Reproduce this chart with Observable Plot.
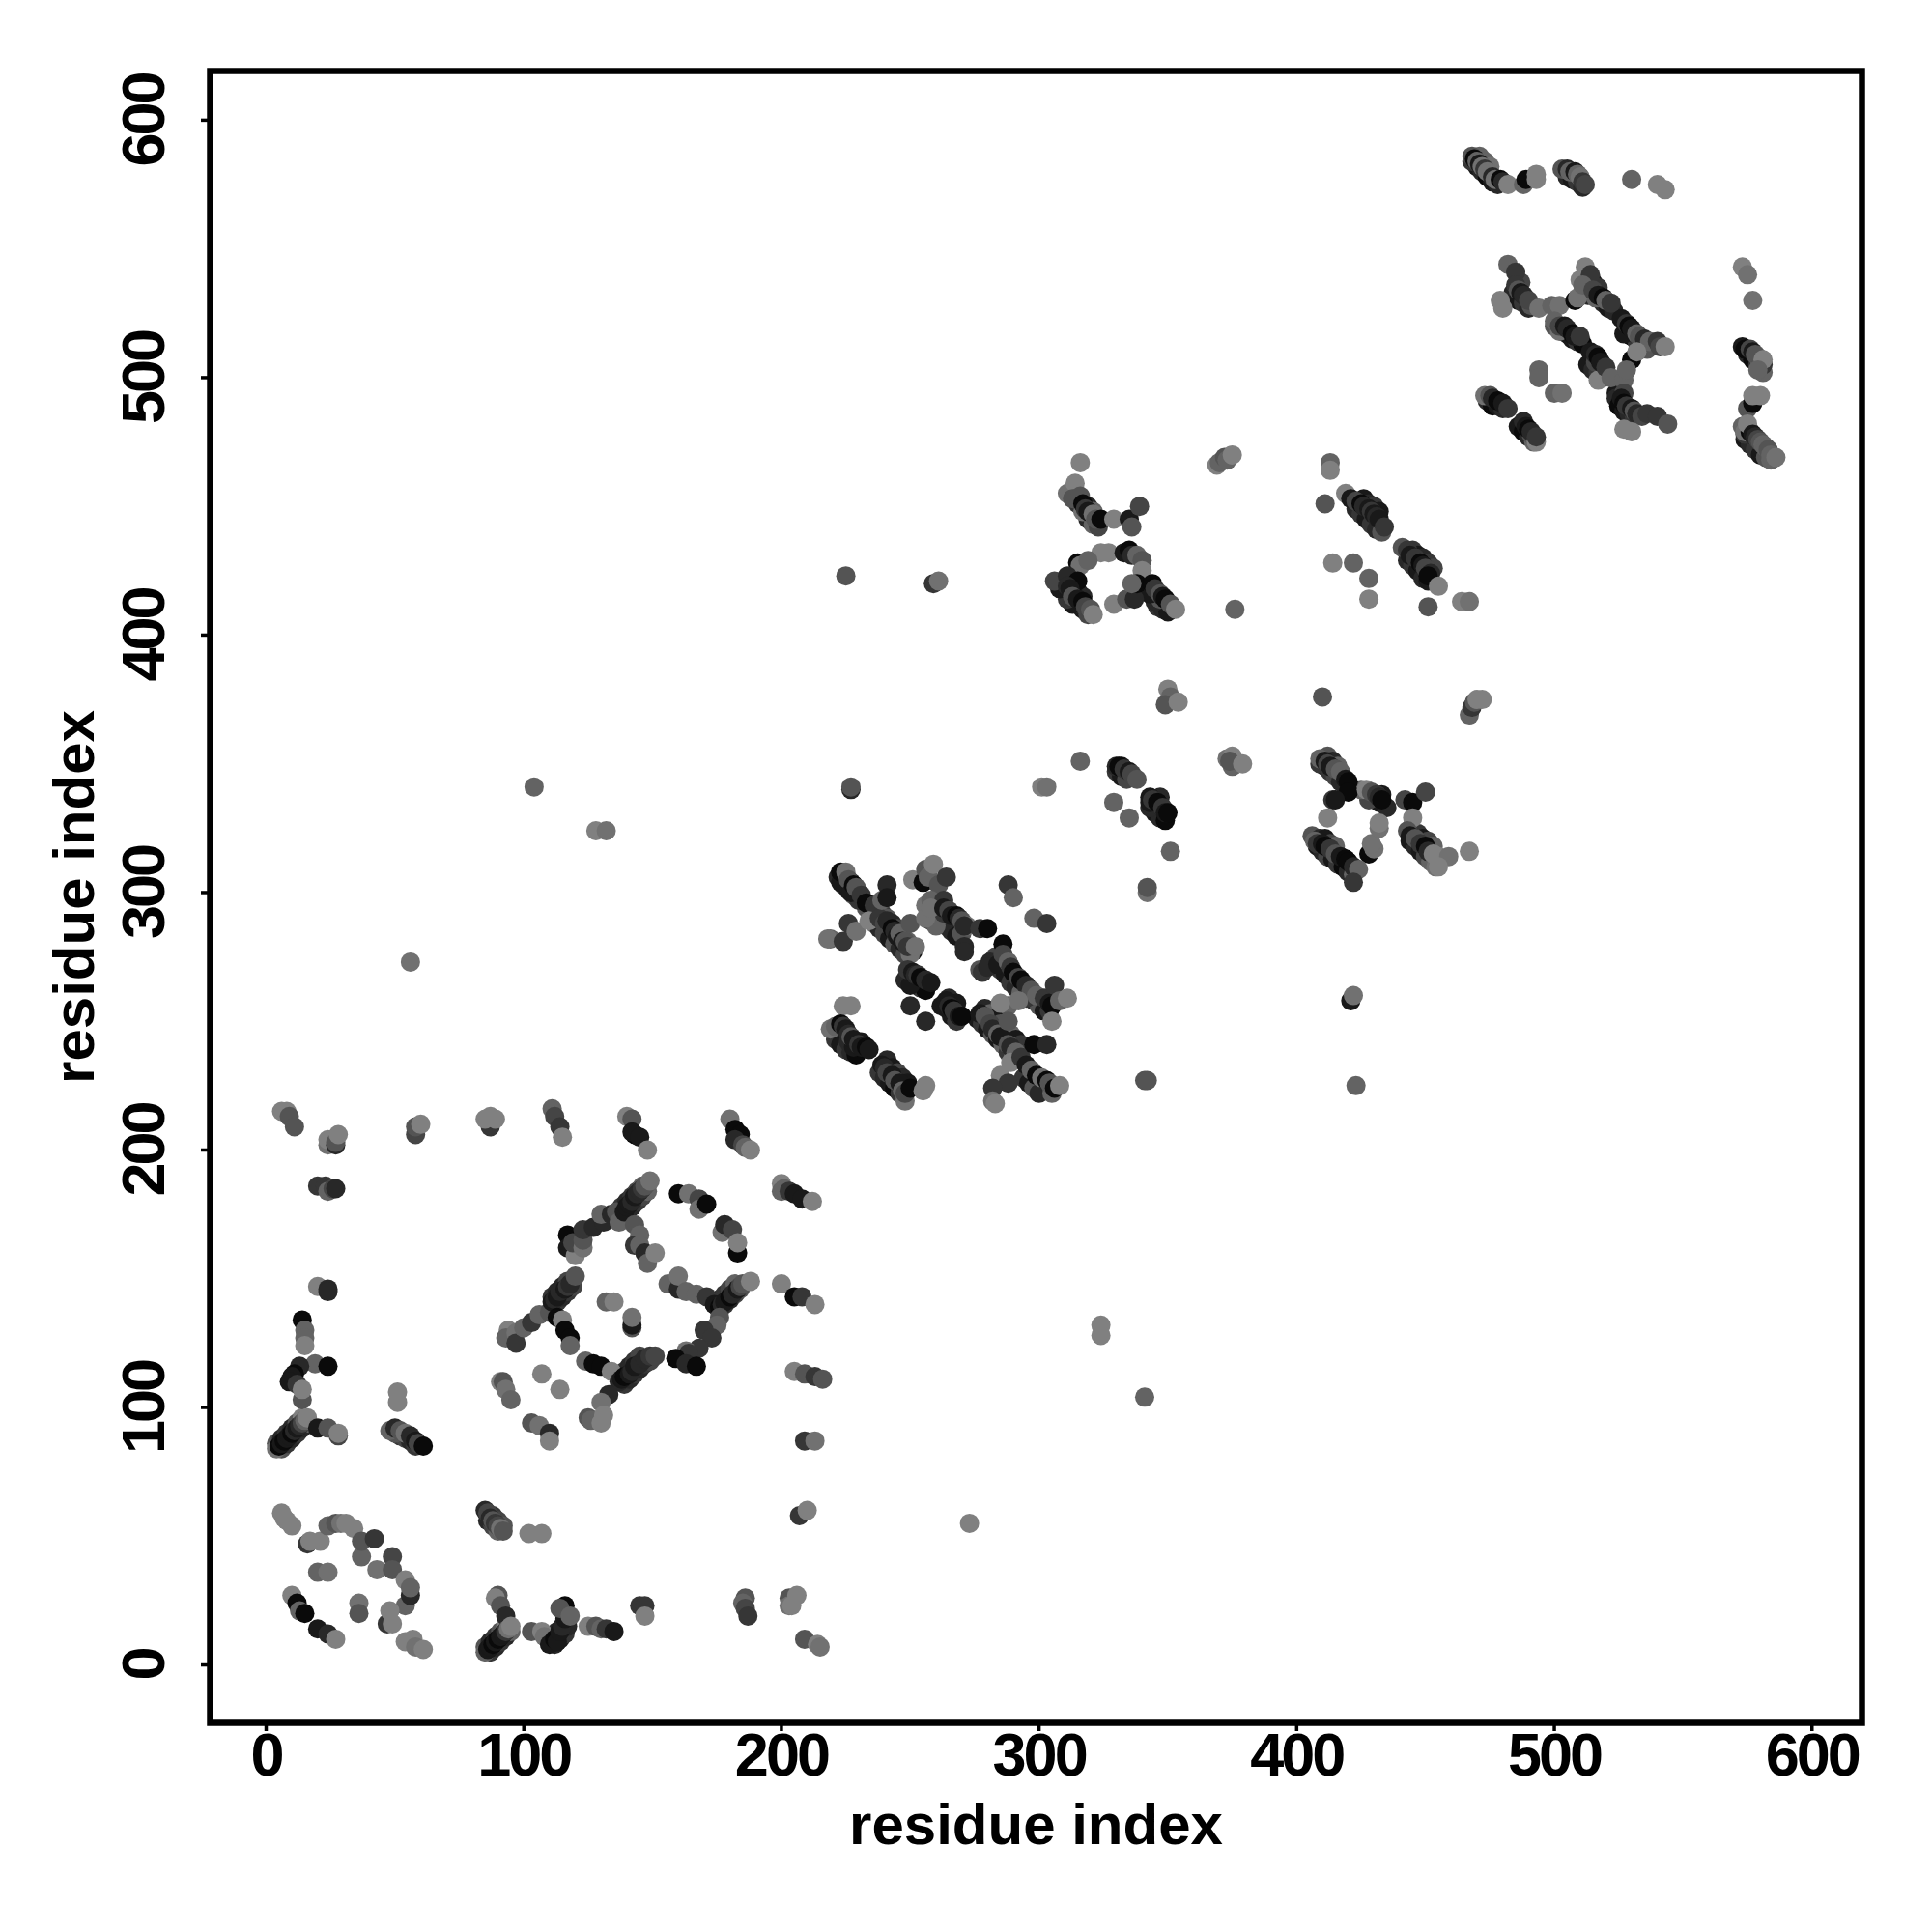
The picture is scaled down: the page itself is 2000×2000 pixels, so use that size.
<!DOCTYPE html>
<html><head><meta charset="utf-8">
<style>html,body{margin:0;padding:0;background:#fff}svg{display:block}
g[aria-label="x-axis tick label"],g[aria-label="y-axis tick label"]{letter-spacing:-3px}
g[aria-label="x-axis label"],g[aria-label="y-axis label"]{font-size:60px}
</style>
<script src="https://cdn.jsdelivr.net/npm/d3@7"></script>
<script src="https://cdn.jsdelivr.net/npm/@observablehq/plot@0.6"></script>
</head><body><div id="chart"></div>
<script>
// each entry: [residue x, residue y, shade 0 (black) .. 9 (light grey)]
const tickValues = [0,100,200,300,400,500,600];
const axisTitle = "residue index";
const fringeLowBlock = [[6,84,5],[8,86,3],[10,88,2],[12,90,3],[14,92,2],[16,94,6],[4,86,5],[6,88,2],[8,90,3],[10,92,2],[12,94,5],[14,96,8],[87,5,3],[89,7,2],[91,9,3],[93,11,2],[95,13,6],[85,7,5],[87,9,2],[89,11,3],[91,13,5],[93,15,8],[113,141,3],[115,143,2],[117,145,3],[119,147,4],[111,143,3],[113,145,2],[115,147,2],[117,149,4],[140,176,3],[142,178,2],[144,180,3],[146,182,4],[148,184,6],[138,178,3],[140,180,2],[142,182,3],[144,184,4],[146,186,6],[176,138,2],[178,140,3],[180,142,2],[182,144,4],[184,146,5],[174,140,3],[176,142,2],[178,144,3],[180,146,4],[182,148,6],[139,109,3],[141,111,2],[143,113,3],[145,115,2],[147,117,3],[149,118,4],[137,112,4],[139,114,3],[141,116,2],[143,118,3],[145,120,4],[112,8,2],[114,10,1],[116,12,3],[117,15,2],[110,11,3],[113,13,2],[52,89,3],[54,88,4],[56,87,2],[58,85,3],[50,90,5],[48,91,6],[88,58,3],[86,56,2],[90,56,4],[88,54,4],[92,54,5],[90,52,6]];
const fringeBlocks = [[225,306,3],[227,304,2],[229,301,4],[231,298,2],[233,294,5],[222,306,2],[224,303,3],[226,301,1],[228,299,5],[230,297,3],[236,292,5],[239,292,3],[241,290,5],[243,288,2],[245,286,4],[247,283,3],[249,281,6],[251,277,1],[236,288,7],[238,286,2],[240,284,4],[242,282,1],[244,280,5],[246,278,2],[248,276,4],[250,276,7],[260,291,2],[262,289,1],[264,287,4],[266,285,2],[268,283,1],[270,284,5],[258,289,4],[260,287,6],[263,292,3],[256,295,7],[288,268,3],[290,266,1],[292,264,4],[294,262,2],[296,260,6],[298,258,2],[300,256,5],[302,254,1],[304,254,3],[283,275,4],[281,273,2],[285,270,3],[287,268,1],[289,265,3],[291,263,2],[293,261,6],[295,259,3],[279,255,2],[281,253,6],[283,251,1],[285,249,5],[287,247,2],[289,245,6],[291,243,1],[293,241,3],[276,251,1],[278,249,3],[280,247,1],[282,245,5],[284,243,1],[286,241,6],[288,238,3],[290,236,6],[296,230,2],[298,228,4],[300,226,0],[302,224,1],[304,223,2],[294,228,3],[296,226,1],[298,224,5],[300,222,2],[305,222,6],[221,243,3],[223,241,1],[225,239,3],[227,238,2],[229,237,0],[231,242,1],[226,242,2],[228,240,1],[238,230,3],[240,228,2],[242,226,1],[244,224,0],[246,222,3],[241,235,2],[243,232,1],[245,230,4],[247,228,2],[249,226,1],[252,265,1],[254,263,3],[256,262,0],[248,266,2],[250,264,1],[249,270,3],[264,255,2],[266,252,1],[268,250,3],[262,256,1],[265,259,2],[268,257,1]];
const fringeUpper = [[313,456,6],[315,451,3],[317,449,1],[319,445,2],[321,443,6],[323,442,4],[317,448,7],[319,450,2],[321,448,6],[317,410,1],[319,408,4],[315,412,2],[313,412,1],[311,414,3],[315,417,1],[317,415,2],[308,420,2],[308,418,1],[346,411,3],[348,410,2],[350,409,1],[345,413,2],[347,414,5],[343,416,1],[423,449,2],[425,447,3],[427,445,1],[429,443,3],[431,441,2],[433,440,5],[426,453,1],[428,451,2],[430,450,3],[432,448,1],[443,429,2],[445,427,3],[447,425,1],[449,422,2],[451,421,1],[445,433,3],[447,431,1],[449,430,2],[451,428,3],[453,426,4],[411,349,1],[413,347,3],[415,345,4],[417,343,2],[409,350,3],[412,353,5],[414,351,2],[416,349,6],[408,318,1],[410,316,2],[412,314,4],[414,313,1],[416,311,3],[418,310,0],[420,308,2],[422,307,6],[406,322,5],[409,321,2],[411,321,1],[413,319,4],[415,318,6],[444,320,1],[446,318,2],[448,316,1],[450,314,4],[452,312,6],[454,310,7],[447,323,3],[449,321,1],[451,320,4],[453,318,6],[332,349,1],[334,347,2],[336,345,3],[330,347,3],[332,345,1],[334,344,4],[345,331,1],[347,329,2],[349,328,0],[343,333,2],[343,335,1],[347,337,2],[432,335,1],[430,337,3],[435,333,2],[428,336,4],[425,340,6],[433,338,1]];
const fringeTop = [[470,582,1],[472,580,2],[474,578,0],[476,576,1],[478,575,2],[468,584,3],[471,586,6],[473,584,6],[475,582,7],[505,578,2],[507,577,1],[509,576,3],[511,574,2],[484,533,2],[486,530,1],[488,529,3],[490,527,2],[487,537,4],[491,528,5],[515,537,1],[517,535,3],[519,529,2],[521,527,1],[513,532,2],[516,531,6],[523,526,2],[503,518,2],[505,517,1],[507,515,1],[509,514,3],[511,513,0],[500,520,5],[502,518,7],[513,505,1],[515,503,2],[517,502,3],[519,500,5],[514,510,1],[516,506,4],[524,494,1],[524,492,2],[525,489,0],[527,487,1],[529,486,2],[531,485,3],[526,523,1],[528,518,2],[530,516,0],[532,514,3],[534,512,6],[536,511,5],[527,517,1],[474,491,2],[476,489,0],[478,489,1],[480,488,2],[486,481,1],[488,479,0],[490,477,2],[492,475,6],[491,478,5],[573,512,1],[575,509,2],[577,507,0],[579,505,3],[581,502,6],[579,508,7],[574,476,1],[576,474,2],[578,472,3],[580,470,1],[582,469,5],[584,468,6],[574,478,3],[573,481,6]];
const topRowLeft = [[6,215,8],[8,215,8],[9,213,5],[11,209,5],[24,202,7],[24,204,8],[27,202,2],[27,203,5],[28,206,8],[58,206,4],[58,209,5],[60,210,8],[87,209,3],[85,212,8],[87,213,8],[89,212,8],[111,216,6],[112,213,4],[114,209,3],[115,205,8],[140,213,8],[142,212,5],[143,206,0],[142,207,1],[145,205,1],[148,200,8],[180,212,7],[182,208,0],[184,206,0],[182,204,2],[185,202,4],[186,201,6],[188,200,8],[200,187,8],[200,184,6],[201,185,6],[203,184,3],[205,183,1],[208,181,1],[212,180,8],[20,186,3],[23,186,3],[24,184,6],[26,185,4],[27,185,2]];
const bigHelixTop = [[117,167,0],[117,162,1],[120,159,8],[119,164,4],[123,162,7],[123,165,5],[123,169,3],[127,170,2],[131,172,2],[130,175,6],[134,175,2],[136,176,5],[137,172,6],[139,176,1],[140,178,1],[141,179,1],[142,180,2],[143,182,1],[144,183,2],[145,184,2],[146,185,3],[147,186,5],[149,188,7],[143,171,5],[145,167,6],[143,163,3],[145,163,6],[147,160,2],[148,156,6],[151,160,8]];
const ringRight = [[160,183,0],[164,183,7],[168,181,4],[168,177,7],[171,179,0],[177,168,7],[178,171,2],[181,169,4],[183,160,0],[183,164,8]];
const chainRight = [[156,148,6],[160,146,2],[160,151,7],[163,145,6],[167,144,6],[171,143,3],[174,140,1],[176,139,0],[177,140,2],[178,141,1],[180,143,0],[181,144,2],[183,146,1],[184,147,4],[185,148,5],[188,149,8],[176,135,5],[175,132,6],[170,130,3],[173,127,3],[168,123,3],[163,122,7],[164,121,3],[159,119,0],[163,117,2],[167,116,0]];
const chainLeft = [[94,130,8],[93,127,6],[97,129,7],[97,125,3],[100,131,6],[103,133,3],[106,136,6],[110,137,5],[111,141,1],[112,142,2],[113,143,1],[114,145,2],[116,146,1],[117,147,3],[118,148,2],[120,151,5],[113,135,0],[115,134,8],[116,130,0],[118,127,0],[118,124,6],[132,141,6],[135,141,8],[142,131,5],[142,132,1],[142,135,7]];
const chainLow = [[124,118,6],[127,117,0],[130,116,0],[134,114,8],[137,110,2],[138,111,1],[139,112,0],[141,113,1],[142,114,2],[143,116,1],[145,117,2],[147,119,2],[149,120,3],[151,120,4],[133,105,2],[130,102,7],[125,96,5],[126,95,6],[130,94,8],[131,97,8],[91,110,8],[92,110,5],[93,107,7],[95,103,6],[107,113,8],[114,107,8],[103,94,5],[106,93,7],[110,90,2],[110,87,8]];
const sideRight = [[200,148,8],[205,143,0],[208,143,3],[213,140,8],[205,114,8],[209,113,5],[213,112,3],[216,111,5],[209,87,3],[213,87,7],[207,58,3],[210,60,8],[186,26,5],[185,24,6],[186,22,4],[187,19,3],[203,26,5],[203,23,7],[204,23,8],[206,27,8],[209,10,5],[214,8,8],[215,7,7]];
const leftColumn = [[20,147,8],[24,146,2],[24,145,2],[14,134,0],[15,130,6],[15,127,6],[15,124,8],[19,117,6],[24,116,0],[13,116,2],[11,113,0],[10,112,1],[9,110,1],[12,109,3],[14,103,5],[14,107,8],[51,106,8],[51,102,8]];
const diagBottomLeft = [[4,84,7],[5,85,0],[6,86,1],[7,87,0],[8,88,1],[9,89,1],[10,90,0],[11,91,2],[12,92,1],[13,93,2],[14,94,4],[15,95,6],[16,96,8],[20,92,1],[24,92,5],[28,89,4],[28,90,8],[50,92,2],[52,91,5],[54,90,7],[56,89,2],[58,87,1],[59,86,4],[61,85,0]];
const arcBottomLeft = [[6,59,8],[7,57,8],[8,56,8],[10,54,8],[16,47,3],[17,48,8],[21,48,8],[24,54,6],[27,55,5],[29,55,7],[31,55,8],[34,53,8],[37,42,6],[37,48,5],[42,49,3],[49,42,4],[43,37,7],[49,37,5],[20,36,6],[24,36,7],[54,33,8],[54,23,6],[56,27,2],[56,30,6],[36,24,7],[36,20,5],[47,16,3],[48,21,8],[49,16,8],[10,27,8],[12,24,0],[13,21,6],[15,20,0],[20,14,1],[24,12,2],[27,10,8],[54,9,8],[57,10,8],[58,7,7],[61,6,8]];
const bottomMiddle = [[85,60,2],[86,59,4],[87,57,2],[88,56,5],[89,55,3],[90,54,4],[91,53,7],[92,52,5],[102,51,8],[107,51,8],[90,27,5],[89,26,8],[91,23,5],[93,19,2],[85,5,6],[86,6,1],[87,7,1],[88,8,0],[89,9,1],[90,10,0],[91,11,1],[92,12,1],[93,13,3],[94,14,7],[95,15,8],[103,13,5],[107,13,8],[108,11,7],[110,8,1],[112,10,0],[113,9,1],[114,13,1],[115,15,2],[116,18,1],[116,23,0],[114,22,5],[118,19,6],[125,15,8],[128,15,5],[130,14,6],[132,14,3],[135,13,1],[145,23,3],[147,23,3],[147,19,8]];
const sparseLow = [[273,55,8],[324,132,8],[324,128,8],[341,104,6],[56,273,7],[104,341,6],[128,324,8],[132,324,7],[227,340,2],[227,341,5],[301,341,8],[303,341,7],[225,423,5],[259,420,3],[261,421,7],[421,258,1],[422,260,7],[423,225,6]];
const blockOne = [[219,282,6],[218,282,7],[224,281,3],[226,288,3],[229,285,7],[223,304,1],[223,308,0],[225,308,7],[226,305,5],[227,300,1],[228,303,0],[229,302,5],[231,299,3],[233,296,0],[236,295,3],[234,289,8],[238,290,3],[239,297,6],[241,303,2],[241,298,1],[240,288,4],[241,289,2],[243,286,0],[244,285,2],[245,283,1],[246,284,6],[247,281,1],[248,281,5],[249,279,3],[250,288,5],[252,279,7]];
const blockTwo = [[251,305,8],[255,304,0],[256,309,5],[257,306,6],[259,311,8],[261,303,5],[264,306,3],[256,290,7],[258,297,6],[263,297,3],[258,294,7],[263,294,1],[265,293,4],[266,291,1],[268,291,0],[269,290,2],[270,289,5],[272,287,7],[271,287,2],[277,286,3],[280,286,0],[271,279,2],[271,277,2],[288,303,3],[290,298,6],[298,290,6],[303,288,3]];
const blockThree = [[277,270,5],[278,269,3],[280,271,2],[284,272,1],[286,280,0],[286,276,4],[288,273,6],[289,271,3],[290,269,0],[292,267,4],[293,266,0],[295,264,2],[297,262,5],[299,260,6],[302,259,3],[304,257,1],[305,256,0],[306,264,3],[308,258,6],[311,259,8],[305,250,8],[251,269,1],[252,268,2],[253,268,3],[254,267,0],[256,266,2],[258,265,1],[250,256,2],[256,250,2],[264,258,1],[265,256,2],[266,255,0],[267,254,3],[269,252,1],[270,252,0]];
const blockFour = [[288,256,6],[292,258,7],[285,257,8],[277,253,1],[279,252,5],[281,249,4],[282,247,2],[284,245,6],[285,244,1],[288,250,5],[288,241,5],[289,240,2],[291,238,6],[289,234,8],[293,236,3],[298,241,0],[303,241,2],[295,233,1],[297,231,6],[299,229,0],[301,228,7],[303,227,0],[304,226,5],[306,224,0],[308,225,8],[285,229,8],[288,226,3],[282,224,3],[282,219,7],[283,218,8],[341,227,5],[342,227,5],[342,300,7],[342,302,5]];
const blockFive = [[224,256,8],[227,256,8],[219,247,7],[221,248,6],[223,249,0],[224,248,3],[225,247,1],[226,245,2],[227,244,5],[228,243,1],[230,241,3],[231,240,1],[233,240,0],[234,239,1],[239,233,1],[240,232,2],[241,230,4],[243,229,1],[244,227,5],[246,226,1],[247,223,6],[248,219,7],[248,222,4],[250,224,0],[256,225,8],[255,223,8]];
const upperMidLeft = [[316,467,8],[311,455,7],[314,459,8],[313,453,5],[316,454,5],[317,451,0],[318,449,3],[319,448,1],[321,447,7],[322,445,5],[324,445,0],[329,445,8],[335,445,1],[336,442,5],[339,450,4],[324,432,8],[327,432,8],[333,432,1],[335,433,0],[336,431,2],[338,431,6],[340,429,5],[340,425,8],[315,428,0],[316,427,7],[319,429,6],[306,421,4],[311,423,2],[315,421,0],[311,419,2],[312,418,1],[313,415,5],[315,414,1],[317,413,0],[318,411,4],[320,410,5],[321,408,8],[329,412,8],[334,414,5],[337,414,2],[338,420,0],[336,420,6],[344,420,0],[345,418,3],[347,416,5],[348,415,1],[349,414,0],[351,412,5],[353,410,8],[376,410,6],[369,466,8],[370,467,6],[372,469,5],[373,468,6],[375,470,8]];
const upperMidRight = [[413,467,6],[413,464,8],[411,451,5],[419,455,8],[421,453,1],[423,452,4],[425,451,0],[426,450,2],[428,449,1],[429,448,3],[430,447,1],[431,446,2],[432,445,1],[434,442,3],[441,434,5],[443,433,3],[444,431,1],[446,430,3],[448,428,0],[449,427,1],[450,426,4],[452,424,2],[451,423,0],[455,419,8],[414,428,8],[422,428,6],[428,422,6],[428,414,8],[451,411,5],[464,413,8],[467,413,7],[410,376,5],[467,369,6],[468,372,3],[469,374,5],[470,375,8],[472,375,8]];
const middleLower = [[350,379,8],[351,376,6],[349,373,5],[354,374,8],[316,351,6],[330,349,2],[331,349,0],[333,348,3],[335,347,1],[336,346,4],[338,344,5],[329,335,6],[335,329,6],[343,337,1],[344,336,3],[346,335,0],[348,333,3],[349,331,1],[350,331,0],[351,316,6],[373,352,7],[375,353,8],[375,349,6],[374,351,5],[379,350,8]];
const middleRight = [[409,352,6],[411,351,1],[412,350,4],[413,349,1],[415,348,5],[417,347,6],[419,344,1],[420,343,0],[420,339,0],[414,336,3],[415,336,1],[427,340,8],[429,339,5],[431,338,3],[432,337,2],[433,336,0],[442,336,4],[445,335,0],[450,339,4],[445,329,8],[412,329,8],[428,315,0],[430,317,7],[429,319,7],[432,325,7],[432,327,8],[407,320,6],[408,319,3],[410,319,1],[411,318,0],[413,317,3],[415,315,5],[417,314,1],[419,313,0],[420,312,0],[422,310,2],[424,309,6],[422,304,3],[443,324,5],[444,322,1],[446,321,5],[448,319,3],[450,318,0],[451,316,2],[453,315,8],[455,314,8],[459,314,7],[455,310,8],[467,316,8]];
const topRight = [[468,586,5],[469,585,0],[470,584,6],[471,583,1],[472,582,7],[473,581,3],[474,580,7],[476,578,2],[477,577,7],[479,577,0],[480,576,2],[482,575,8],[488,575,6],[489,577,0],[493,579,8],[493,577,8],[503,581,5],[505,581,2],[506,580,6],[508,580,1],[509,579,6],[510,578,7],[511,576,3],[512,575,4],[530,577,6],[540,575,8],[543,573,8]];
const upperBlockLeft = [[482,544,6],[485,541,3],[485,536,3],[486,534,5],[487,533,1],[488,532,2],[490,530,4],[494,527,7],[479,530,8],[480,527,8],[499,528,6],[502,528,7],[508,530,0],[509,531,7],[510,538,8],[512,543,8],[514,540,3],[511,536,6],[515,534,4],[517,532,1],[519,531,0],[520,530,6],[522,529,3],[500,522,6],[502,520,4],[504,520,1],[505,519,2],[507,517,0],[508,516,1],[510,516,3],[517,499,8],[516,509,2],[517,508,0],[518,506,1],[520,504,3],[522,500,6],[527,499,6],[494,503,6],[494,500,6],[500,494,6],[503,494,7],[473,493,7],[475,493,5],[476,492,2],[478,491,0],[480,490,1],[482,488,3],[488,483,2],[489,481,1],[490,480,0],[491,479,2],[493,475,8],[493,477,3]];
const upperBlockRight = [[528,521,3],[529,520,0],[530,519,1],[532,517,6],[533,516,5],[535,515,2],[537,514,6],[540,514,3],[541,512,4],[543,512,8],[530,507,0],[532,510,8],[528,503,6],[527,494,4],[526,492,1],[527,490,0],[528,489,3],[530,488,1],[531,487,5],[532,486,2],[534,485,4],[536,486,3],[540,485,3],[544,482,5],[527,480,8],[530,479,8],[573,543,8],[575,540,7],[577,530,7],[574,511,0],[576,511,4],[577,510,1],[578,509,5],[581,505,3],[581,507,8],[579,503,6],[575,488,5],[577,490,0],[577,493,8],[580,493,8],[574,479,7],[576,479,0],[575,482,8],[577,478,1],[578,477,2],[579,476,4],[580,475,5],[581,474,6],[582,473,6],[583,472,5],[584,470,6],[586,469,7]];
const points = [...fringeLowBlock,...fringeBlocks,...fringeUpper,...fringeTop,...topRowLeft,...leftColumn,...diagBottomLeft,...arcBottomLeft,...bottomMiddle,...bigHelixTop,...ringRight,...chainRight,...chainLeft,...chainLow,...sideRight,...sparseLow,...blockFive,...blockOne,...blockTwo,...blockThree,...blockFour,...upperMidLeft,...upperMidRight,...middleLower,...middleRight,...topRight,...upperBlockLeft,...upperBlockRight];
const chart = Plot.plot({
  width:2000,height:2000,marginLeft:217,marginRight:73,marginTop:73,marginBottom:217,
  style:{fontFamily:"'Liberation Sans',sans-serif",fontWeight:"bold",background:"#fff",color:"#000"},
  x:{domain:[-21.75,619.4]},
  y:{domain:[-22.5,619.1]},
  color:{type:"linear",domain:[0,9],range:["#0a0a0a","#8f8f8f"]},
  marks:[
    Plot.dot(points,{x:d=>d[0],y:d=>d[1],fill:d=>d[2],r:10}),
    Plot.frame({stroke:"#000",strokeWidth:6.5}),
    Plot.axisX({ticks:tickValues,tickSize:9,tickPadding:1,fontSize:63,strokeWidth:3.5,label:axisTitle,labelAnchor:"center",labelArrow:"none",labelOffset:125}),
    Plot.axisY({ticks:tickValues,tickSize:9,tickPadding:39,fontSize:63,strokeWidth:3.5,tickRotate:-90,textAnchor:"middle",label:axisTitle,labelAnchor:"center",labelArrow:"none",labelOffset:163})
  ]
});
document.getElementById("chart").appendChild(chart);
</script></body></html>
